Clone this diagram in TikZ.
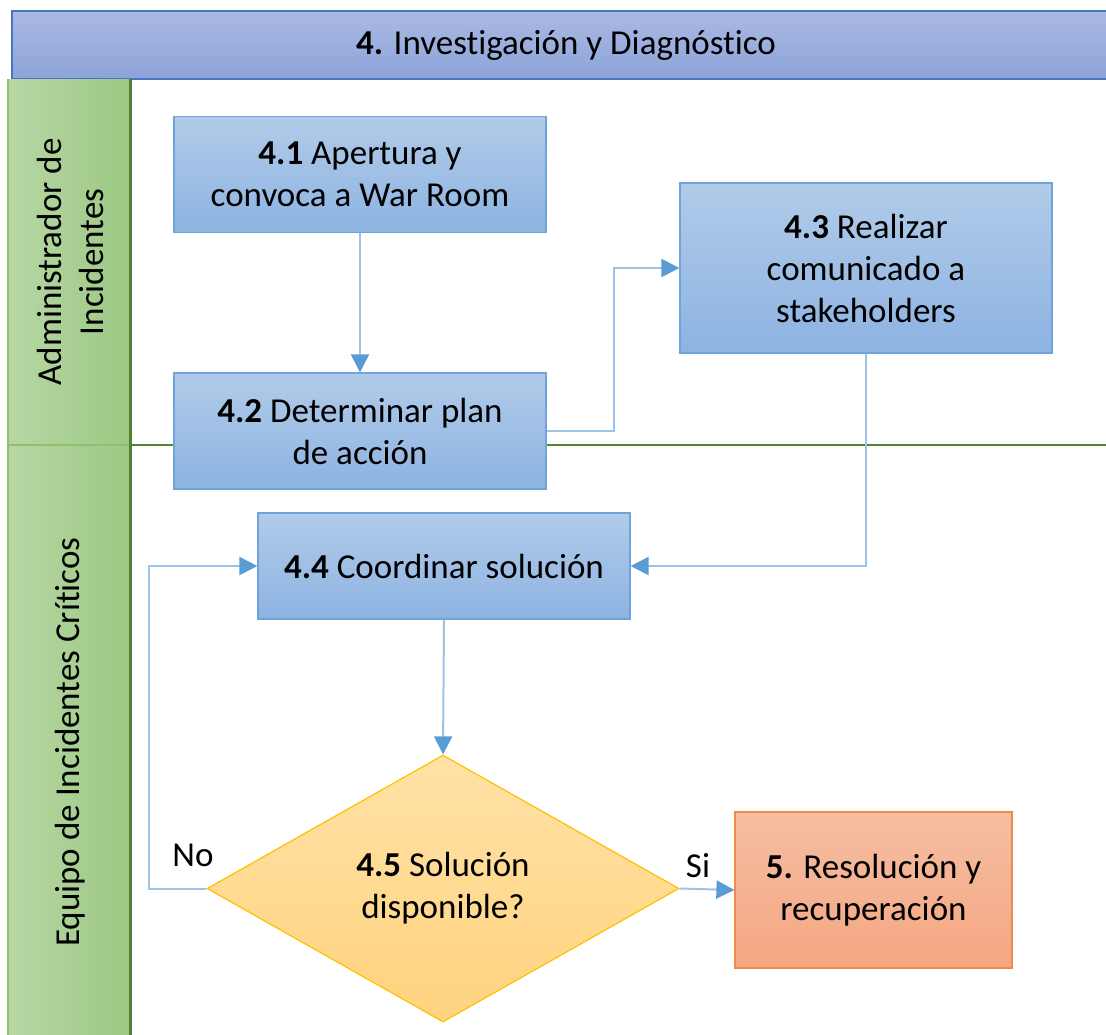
\documentclass[tikz,border=0pt]{standalone}
\usepackage{fontspec}
\setmainfont{Carlito}[Ligatures=NoCommon]
\usetikzlibrary{positioning, shapes.geometric, arrows.meta}

\definecolor{tasktop}{HTML}{B1CBE9}
\definecolor{taskbottom}{HTML}{8DB3E2}
\definecolor{taskline}{HTML}{6FA3D9}
\definecolor{flowline}{HTML}{9DC3E6}
\definecolor{flowtip}{HTML}{5B9BD5}
\definecolor{headtop}{HTML}{A9B9E2}
\definecolor{headbottom}{HTML}{8DA4D9}
\definecolor{headline}{HTML}{4C74C4}
\definecolor{lanelight}{HTML}{B7D7A4}
\definecolor{lanedark}{HTML}{9CC884}
\definecolor{laneline}{HTML}{548235}
\definecolor{lanesoft}{HTML}{8FC070}
\definecolor{decitop}{HTML}{FFE2A6}
\definecolor{decibottom}{HTML}{FFD37F}
\definecolor{deciline}{HTML}{FFC000}
\definecolor{exittop}{HTML}{F6BEA3}
\definecolor{exitbottom}{HTML}{F4A681}
\definecolor{exitline}{HTML}{F08A4B}

\begin{document}
\begin{tikzpicture}[
    x=0.5pt, y=-0.5pt,
    font=\fontsize{17.5}{21}\selectfont,
    % Define the style for the process boxes
    task/.style={
        rectangle,
        draw=taskline,
        top color=tasktop,
        bottom color=taskbottom,
        align=center,
        minimum width=186pt,
        inner sep=0pt,
        line width=0.6pt
    },
    % Define the style for the decision
    decision/.style={
        diamond,
        aspect=1.77,
        draw=deciline,
        top color=decitop,
        bottom color=decibottom,
        minimum width=236pt,
        minimum height=133.5pt,
        inner sep=0pt,
        align=center,
        line width=0.6pt
    },
    % Define the style for the next phase box
    exitbox/.style={
        rectangle,
        draw=exitline,
        top color=exittop,
        bottom color=exitbottom,
        minimum width=138.5pt,
        minimum height=78pt,
        align=center,
        line width=0.6pt
    },
    % Define the style for the arrows
    line/.style={
        draw=flowline,
        line width=1pt,
        -{Triangle[length=9pt, width=9pt, color=flowtip]}
    }
]
    \useasboundingbox (0,0) rectangle (1106,1034);

    % Header and swimlanes
    \node [rectangle, draw=headline, line width=1pt, top color=headtop,
        bottom color=headbottom, minimum width=554pt, minimum height=34pt]
        (phase) at (566,45) {\textbf{4.} Investigación y Diagnóstico};
    \shade [left color=lanelight, right color=lanedark] (8,79) rectangle (131,1040);
    \draw [lanesoft, line width=0.8pt] (8,79) -- (8,1040);
    \draw [lanesoft, line width=0.8pt] (8,445) -- (129,445);
    \draw [laneline, line width=1.5pt] (130,79) -- (130,1040);
    \draw [laneline, line width=1.2pt] (131,445) -- (1106,445);
    \node [rotate=90, align=center] (lane1) at (70,262) {Administrador de\\Incidentes};
    \node [rotate=90] (lane2) at (70,742) {Equipo de Incidentes Críticos};

    % Place the nodes (boxes)
    \node [task, minimum height=58pt] (t41) at (360,174.5) {\textbf{4.1} Apertura y\\convoca a War Room};
    \node [task, minimum height=58pt] (t42) at (360,431) {\textbf{4.2} Determinar plan\\de acción};
    \node [task, minimum height=85pt] (t43) at (866,268) {\textbf{4.3} Realizar\\comunicado a\\stakeholders};
    \node [task, minimum height=53pt] (t44) at (444,566) {\textbf{4.4} Coordinar solución};
    \node [decision] (d45) at (443,888.5) {\textbf{4.5} Solución\\disponible?};
    \node [exitbox] (r5) at (873.5,890) {\textbf{5.} Resolución y\\recuperación};
    \node (nolbl) at (193,855) {No};
    \node (silbl) at (698,866) {Si};

    % Draw the arrows
    \path [line] (t41) -- (t42);
    \path [line] (t42.east) -- ++(67,0) |- (t43.west);
    \path [line] (t43.south) |- (t44.east);
    \path [line] (t44.south) -- (d45.north);
    \path [line] (d45.west) -- ++(-57,0) |- (t44.west);
    \path [line] (d45.east) -- (r5.west);

\end{tikzpicture}
\end{document}
